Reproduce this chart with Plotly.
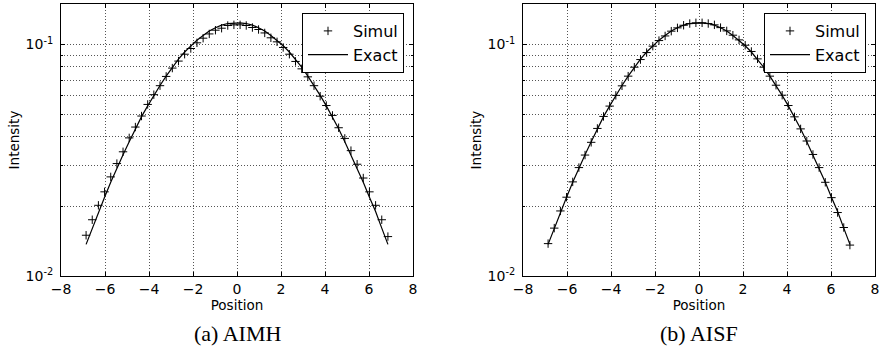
import plotly.graph_objects as go

# ---- data ----
positions = [-6.86, -6.58, -6.30, -6.02, -5.74, -5.46, -5.18, -4.90, -4.62, -4.34,
             -4.06, -3.78, -3.50, -3.22, -2.94, -2.66, -2.38, -2.10, -1.82, -1.54,
             -1.26, -0.98, -0.70, -0.42, -0.14, 0.14, 0.42, 0.70, 0.98, 1.26,
             1.54, 1.82, 2.10, 2.38, 2.66, 2.94, 3.22, 3.50, 3.78, 4.06,
             4.34, 4.62, 4.90, 5.18, 5.46, 5.74, 6.02, 6.30, 6.58, 6.86]

exact = [0.0137, 0.0161, 0.0190, 0.0219, 0.0254, 0.0294, 0.0334, 0.0380, 0.0433, 0.0488,
         0.0543, 0.0603, 0.0665, 0.0730, 0.0798, 0.0864, 0.0928, 0.0988, 0.1044, 0.1093,
         0.1143, 0.1182, 0.1213, 0.1232, 0.1241, 0.1241, 0.1232, 0.1213, 0.1182, 0.1143,
         0.1093, 0.1044, 0.0988, 0.0928, 0.0864, 0.0798, 0.0730, 0.0665, 0.0603, 0.0543,
         0.0488, 0.0433, 0.0380, 0.0334, 0.0294, 0.0254, 0.0219, 0.0190, 0.0161, 0.0137]

simul_aimh = [0.0150, 0.0175, 0.0202, 0.0231, 0.0268, 0.0306, 0.0344, 0.0395, 0.0440, 0.0491,
              0.0551, 0.0607, 0.0664, 0.0728, 0.0791, 0.0848, 0.0908, 0.0961, 0.1017, 0.1065,
              0.1111, 0.1153, 0.1176, 0.1208, 0.1216, 0.1216, 0.1208, 0.1184, 0.1161, 0.1122,
              0.1069, 0.1027, 0.0971, 0.0908, 0.0845, 0.0785, 0.0725, 0.0664, 0.0598, 0.0545,
              0.0494, 0.0437, 0.0393, 0.0348, 0.0304, 0.0265, 0.0231, 0.0202, 0.0175, 0.0148]

simul_aisf = [0.0138, 0.0161, 0.0191, 0.0219, 0.0255, 0.0294, 0.0333, 0.0378, 0.0434, 0.0489,
              0.0542, 0.0603, 0.0663, 0.0730, 0.0798, 0.0861, 0.0923, 0.0984, 0.1040, 0.1089,
              0.1142, 0.1180, 0.1211, 0.1232, 0.1241, 0.1241, 0.1232, 0.1216, 0.1183, 0.1145,
              0.1097, 0.1047, 0.0993, 0.0933, 0.0867, 0.0798, 0.0730, 0.0667, 0.0604, 0.0545,
              0.0487, 0.0432, 0.0383, 0.0335, 0.0294, 0.0254, 0.0218, 0.0188, 0.0162, 0.0136]

x_ticks = [-8, -6, -4, -2, 0, 2, 4, 6, 8]
y_major = [0.01, 0.1]
y_major_text = ["10<sup>-2</sup>", "10<sup>-1</sup>"]
y_minor = [0.02, 0.03, 0.04, 0.05, 0.06, 0.07, 0.08, 0.09]
captions = ["(a) AIMH", "(b) AISF"]

# ---- figure ----
W, H = 880, 350
SANS = "DejaVu Sans"
GRID = "#555555"
GDASH = "1px,2px"

fig = go.Figure()

for k, simul in enumerate([simul_aimh, simul_aisf]):
    xa = "x" if k == 0 else "x2"
    ya = "y" if k == 0 else "y2"
    lg = "legend" if k == 0 else "legend2"
    fig.add_trace(go.Scatter(
        x=positions, y=simul, mode="markers", name="Simul",
        marker=dict(symbol="cross-thin", size=6, color="black",
                    line=dict(color="black", width=1)),
        xaxis=xa, yaxis=ya, legend=lg))
    fig.add_trace(go.Scatter(
        x=positions, y=exact, mode="lines", name="Exact",
        line=dict(color="black", width=1.2),
        xaxis=xa, yaxis=ya, legend=lg))

def xaxis(domain, anchor):
    return dict(domain=domain, anchor=anchor, range=[-8, 8], tickvals=x_ticks,
                ticks="inside", ticklen=4, tickcolor="black", tickwidth=1,
                showline=True, linecolor="black", linewidth=1, mirror="ticks",
                showgrid=True, gridcolor=GRID, griddash=GDASH, gridwidth=1,
                zeroline=False, ticklabelstandoff=0, automargin=False,
                tickfont=dict(family=SANS, size=14, color="black"),
                title=dict(text="Position", standoff=0,
                           font=dict(family=SANS, size=13.5, color="black")))

def yaxis(anchor):
    return dict(domain=[1 - 276 / H, 1 - 4 / H], anchor=anchor, type="log",
                range=[-2, -0.825], tickvals=y_major, ticktext=y_major_text,
                ticks="inside", ticklen=4, tickcolor="black", tickwidth=1,
                showline=True, linecolor="black", linewidth=1, mirror="ticks",
                showgrid=True, gridcolor=GRID, griddash=GDASH, gridwidth=1,
                zeroline=False, ticklabelstandoff=4, automargin=False,
                minor=dict(tickvals=y_minor, ticks="inside", ticklen=2,
                           tickcolor="black", showgrid=True, gridcolor=GRID,
                           griddash=GDASH, gridwidth=1),
                tickfont=dict(family=SANS, size=14, color="black"),
                title=dict(text="Intensity", standoff=2,
                           font=dict(family=SANS, size=13.5, color="black")))

legend_style = dict(bgcolor="white", bordercolor="black", borderwidth=1,
                    font=dict(family=SANS, size=16, color="black"),
                    xanchor="right", yanchor="top", itemwidth=40,
                    tracegroupgap=0)

fig.update_layout(
    width=W, height=H,
    margin=dict(l=0, r=0, t=0, b=0, autoexpand=False),
    paper_bgcolor="white", plot_bgcolor="white",
    showlegend=True,
    xaxis=xaxis([61 / W, 413 / W], "y"),
    yaxis=yaxis("x"),
    xaxis2=xaxis([523 / W, 875 / W], "y2"),
    yaxis2=yaxis("x2"),
    legend=dict(x=404 / W, y=1 - 13 / H, **legend_style),
    legend2=dict(x=866 / W, y=1 - 13 / H, **legend_style),
)

for cx, txt in zip([237 / W, 699 / W], captions):
    fig.add_annotation(x=cx, y=1 - 333 / H, xref="paper", yref="paper",
                       text=txt, showarrow=False, xanchor="center", yanchor="middle",
                       font=dict(family="Liberation Serif", size=22, color="black"))

fig.write_html("out.html", config={"displayModeBar": False},
               post_script="document.body.style.margin='0px';"
                           "document.body.style.overflow='hidden';")
